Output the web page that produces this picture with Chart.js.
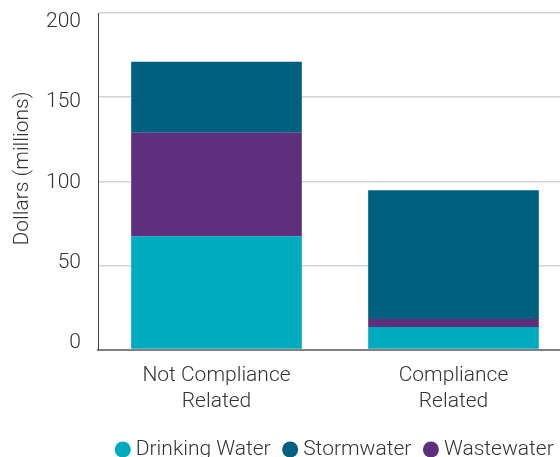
<!DOCTYPE html>
<html>
<head>
<meta charset="utf-8">
<script src="https://cdn.jsdelivr.net/npm/chart.js@4.4.0/dist/chart.umd.min.js"></script>
<style>
html,body{margin:0;padding:0;overflow:hidden;background:#fff;width:560px;height:457px;}
#wrap{position:absolute;left:0;top:0;width:576px;height:470px;}
</style>
</head>
<body>
<div id="wrap"><canvas id="c" width="576" height="470"></canvas></div>
<script>
const categories = [["Not Compliance","Related"],["Compliance","Related"]];
const drinkingWater = [67.3, 13.4];
const wastewater = [61.5, 4.7];
const stormwater = [42.2, 76.5];
const yTicks = [0, 50, 100, 150, 200];
const legendOrder = ["Drinking Water","Stormwater","Wastewater"];

const font = {family: "Roboto", size: 21, weight: 300, lineHeight: 1.25};

const legendOnPlot = {
  id: 'legendOnPlot',
  afterLayout(chart) {
    const lg = chart.legend, ca = chart.chartArea;
    if (lg && ca) {
      const d = (ca.left + ca.right) / 2 - (lg.left + lg.right) / 2 + 2;
      lg.left += d; lg.right += d;
    }
  }
};

new Chart(document.getElementById('c'), {
  type: 'bar',
  data: {
    labels: categories,
    datasets: [
      {label: "Drinking Water", data: drinkingWater, backgroundColor: "#00AABF"},
      {label: "Wastewater", data: wastewater, backgroundColor: "#5E2F7D"},
      {label: "Stormwater", data: stormwater, backgroundColor: "#00607F"}
    ]
  },
  plugins: [legendOnPlot],
  options: {
    responsive: false,
    animation: false,
    devicePixelRatio: 1,
    datasets: {bar: {barPercentage: 0.72, categoryPercentage: 1}},
    layout: {padding: {top: 0, right: 4, left: 0, bottom: 0}},
    plugins: {
      tooltip: {enabled: false},
      legend: {
        position: 'bottom',
        align: 'center',
        labels: {
          usePointStyle: true, pointStyle: 'circle', boxWidth: 5, boxHeight: 11.3,
          padding: 17, color: "#333", font: font,
          sort: (a, b) => legendOrder.indexOf(a.text) - legendOrder.indexOf(b.text)
        }
      }
    },
    scales: {
      x: {
        stacked: true,
        afterFit: (s) => { s.height -= 6; },
        grid: {display: false, drawTicks: false},
        border: {color: "#808080", width: 2},
        ticks: {color: "#333", font: font, padding: 13}
      },
      y: {
        stacked: true,
        position: 'left',
        weight: 0,
        min: 0, max: 200,
        afterBuildTicks: (s) => { s.ticks = yTicks.map(v => ({value: v})); },
        afterFit: (s) => { s.width = 0; s.paddingTop = 13; s.paddingBottom = 13; },
        grid: {color: "#d4d4d4", lineWidth: 1.5, drawTicks: false},
        border: {color: "#444", width: 1},
        ticks: {display: false}
      },
      yLabels: {
        position: 'left',
        weight: 1,
        min: -4.35, max: 205.6,
        afterBuildTicks: (s) => { s.ticks = yTicks.map(v => ({value: v})); },
        afterFit: (s) => { s.width = 98; s.paddingTop = 13; s.paddingBottom = 13; },
        grid: {display: false, drawTicks: false},
        border: {display: false},
        ticks: {color: "#333", font: font, padding: 17},
        title: {display: true, text: "     Dollars (millions)", color: "#333", font: {family: "Roboto", size: 21, weight: 300, lineHeight: 1.2}, padding: {top: 10, bottom: 0}}
      }
    }
  }
});
</script>
</body>
</html>
